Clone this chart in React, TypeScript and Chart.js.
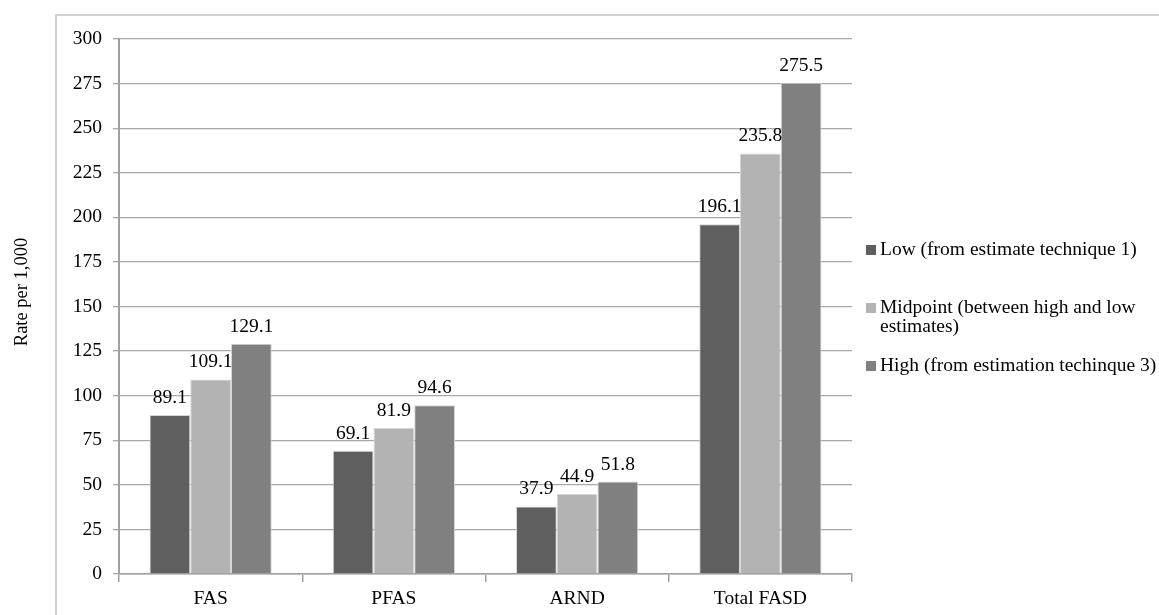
import React, { useEffect, useRef } from "react";
import { Chart, registerables } from "chart.js";

Chart.register(...registerables);

const categories = ["FAS", "PFAS", "ARND", "Total FASD"];
const lowValues = [89.1, 69.1, 37.9, 196.1];
const midValues = [109.1, 81.9, 44.9, 235.8];
const highValues = [129.1, 94.6, 51.8, 275.5];
const seriesLabels = [
  "Low (from estimate technique 1)",
  "Midpoint (between high and low estimates)",
  "High (from estimation techinque 3)",
];
const seriesColors = ["#5f5f5f", "#b3b3b3", "#808080"];
const yTitle = "Rate per 1,000";
const yMin = 0;
const yMax = 300;
const yStep = 25;

const FONT_FAMILY = '"Liberation Serif", "Times New Roman", serif';
const FS = 19.5;
const TITLE_FS = 18.5;

const overlayPlugin = {
  id: "overlay",
  afterDatasetsDraw(chart: any) {
    const ctx = chart.ctx;
    ctx.save();
    ctx.font = `${FS}px ${FONT_FAMILY}`;
    ctx.fillStyle = "#000";
    ctx.textAlign = "center";
    ctx.textBaseline = "alphabetic";
    chart.data.datasets.forEach((ds: any, i: number) => {
      const meta = chart.getDatasetMeta(i);
      meta.data.forEach((bar: any, j: number) => {
        ctx.fillText(String(ds.data[j]), bar.x, bar.y - 12);
      });
    });
    ctx.restore();
  },
  afterDraw(chart: any) {
    const ctx = chart.ctx;
    ctx.save();
    // y-axis title
    ctx.font = `${TITLE_FS}px ${FONT_FAMILY}`;
    ctx.fillStyle = "#000";
    ctx.translate(22, 292);
    ctx.rotate(-Math.PI / 2);
    ctx.textAlign = "center";
    ctx.textBaseline = "middle";
    ctx.fillText(yTitle, 0, 0);
    ctx.restore();

    // legend
    ctx.save();
    ctx.font = `${FS}px ${FONT_FAMILY}`;
    ctx.textAlign = "left";
    ctx.textBaseline = "middle";
    const sqX = 866;
    const txtX = 880;
    const maxW = 285;
    const lineH = 19;
    const startY = 250;
    const gap = 58;
    chart.data.datasets.forEach((ds: any, i: number) => {
      const words = String(ds.label).split(" ");
      const lines: string[] = [];
      let cur = "";
      words.forEach((w) => {
        const test = cur ? cur + " " + w : w;
        if (ctx.measureText(test).width > maxW && cur) {
          lines.push(cur);
          cur = w;
        } else cur = test;
      });
      if (cur) lines.push(cur);
      const y = startY + i * gap;
      ctx.fillStyle = ds.backgroundColor;
      ctx.fillRect(sqX, y - 5, 10, 10);
      ctx.fillStyle = "#000";
      lines.forEach((ln, k) => ctx.fillText(ln, txtX, y + k * lineH));
    });
    ctx.restore();
  },
};

export default function App() {
  const ref = useRef<HTMLCanvasElement | null>(null);
  useEffect(() => {
    if (!ref.current) return;
    const font = { family: FONT_FAMILY, size: FS };
    const chart = new Chart(ref.current, {
      type: "bar",
      data: {
        labels: categories,
        datasets: [lowValues, midValues, highValues].map((d, i) => ({
          label: seriesLabels[i],
          data: d,
          backgroundColor: seriesColors[i],
          borderColor: "#d6d6d6",
          borderWidth: 1,
          barPercentage: 1,
          categoryPercentage: 0.667,
        })),
      },
      options: {
        animation: false,
        responsive: true,
        maintainAspectRatio: false,
        layout: { padding: { top: 39, right: 307, bottom: 0, left: 0 } },
        plugins: {
          legend: { display: false },
          tooltip: { enabled: false },
        },
        scales: {
          x: {
            grid: {
              offset: true,
              drawOnChartArea: false,
              drawTicks: true,
              tickLength: 8,
              color: "#a0a0a0",
              lineWidth: 1.5,
            },
            border: { color: "#a0a0a0", width: 1.5 },
            ticks: { font, color: "#000", padding: 5 },
            afterFit: (s: any) => {
              s.height = 41;
            },
          },
          y: {
            min: yMin,
            max: yMax,
            ticks: { stepSize: yStep, font, color: "#000", padding: 11 },
            grid: { color: "#a8a8a8", lineWidth: 1.3, tickLength: 6 },
            border: { color: "#a0a0a0", width: 2 },
            afterFit: (s: any) => {
              s.width = 119;
            },
          },
        },
      },
      plugins: [overlayPlugin],
    });
    return () => chart.destroy();
  }, []);
  return (
    <div style={{ position: "fixed", left: 0, top: 0, width: 1159, height: 615, background: "#fff" }}>
      <div
        style={{
          position: "absolute",
          left: 55,
          top: 14,
          right: 0,
          bottom: 0,
          borderTop: "2px solid #d0d0d0",
          borderLeft: "2px solid #d0d0d0",
          pointerEvents: "none",
        }}
      />
      <canvas ref={ref} style={{ position: "absolute", left: 0, top: 0, width: 1159, height: 615 }} />
    </div>
  );
}
